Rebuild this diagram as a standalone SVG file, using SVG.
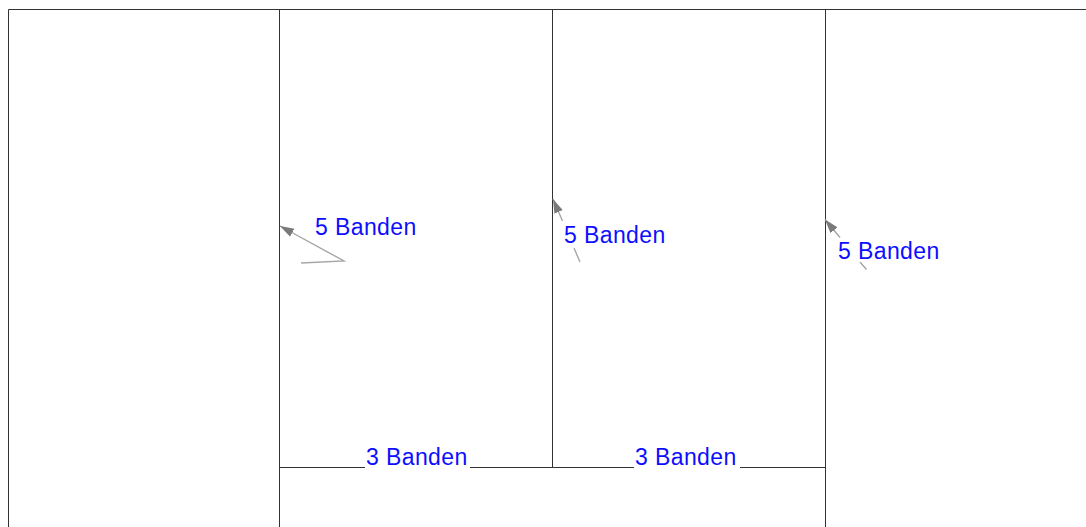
<svg xmlns="http://www.w3.org/2000/svg" width="1086" height="527" viewBox="0 0 1086 527">
<style>
.frame{stroke:#333;stroke-width:1;fill:none}
.lead{stroke:#a6a6a6;stroke-width:1.4;fill:none}
.lbl{font-family:"Liberation Sans",Arial,sans-serif;font-size:23px;fill:#0d0dff;letter-spacing:0.4px}
</style>
<defs>
<marker id="ah" markerUnits="userSpaceOnUse" markerWidth="15" markerHeight="10" refX="14" refY="4.5" orient="auto" viewBox="0 0 15 9">
<path d="M0,0 L14,4.5 L0,9 z" fill="#7a7a7a"/>
</marker>
</defs>
<rect width="1086" height="527" fill="#fff"/>
<g id="frame">
<path class="frame" d="M8.5,527 V9.5 H1086"/>
<path class="frame" d="M279.5,9.5 V527 M552.5,9.5 V467.5 M825.5,9.5 V527"/>
<path class="frame" d="M279.5,467.5 H365 M470,467.5 H634 M740,467.5 H825.5"/>
</g>
<g id="connectors">
<path class="lead" d="M301,263 L344,261 L280,226" marker-end="url(#ah)"/>
<path class="lead" d="M580,262 L574,248"/>
<path class="lead" d="M562.5,221 L553,199" marker-end="url(#ah)"/>
<path class="lead" d="M866.5,269.5 L860,262"/>
<path class="lead" d="M840,237.5 L825,219.5" marker-end="url(#ah)"/>
</g>
<g id="label-5-1"><text class="lbl" x="315" y="235">5 Banden</text></g>
<g id="label-5-2"><text class="lbl" x="564" y="243">5 Banden</text></g>
<g id="label-5-3"><text class="lbl" x="838" y="258.5">5 Banden</text></g>
<g id="label-3-1"><text class="lbl" x="366" y="465">3 Banden</text></g>
<g id="label-3-2"><text class="lbl" x="635" y="465">3 Banden</text></g>
</svg>
